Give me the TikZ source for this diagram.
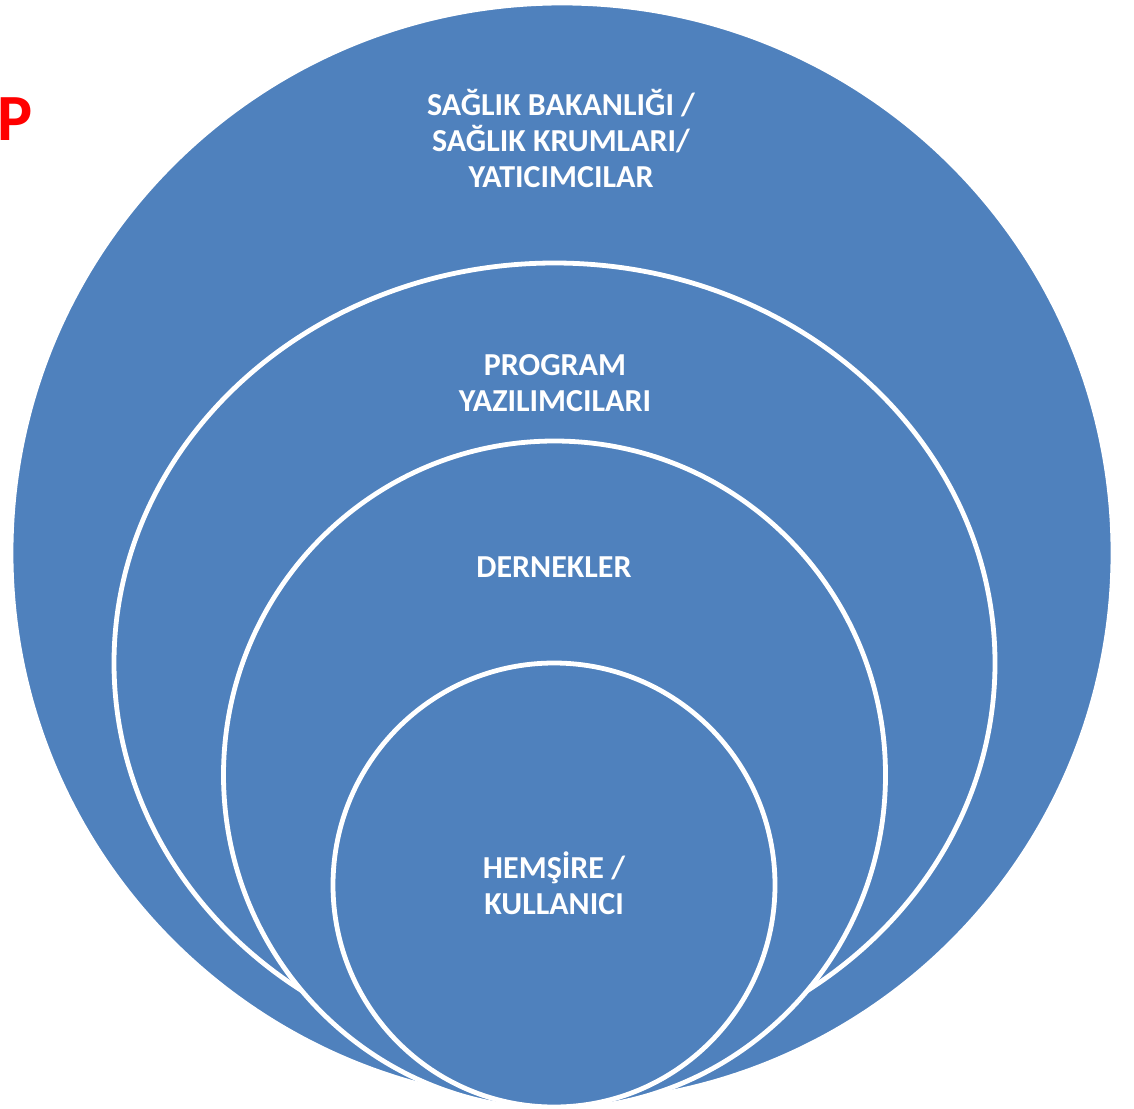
\documentclass[tikz,border=0pt]{standalone}
\usepackage{fontspec}
\setmainfont{Carlito}
\definecolor{ringblue}{RGB}{79,129,189}
\begin{document}
\begin{tikzpicture}[x=0.5pt,y=-0.5pt,
  ring/.style={fill=ringblue, draw=white, line width=2.4pt},
  lbl/.style={text=white, font=\bfseries\fontsize{16}{18}\selectfont, align=center, inner sep=0pt}]
\useasboundingbox (0,0) rectangle (1134,1108);
\fill[white] (0,0) rectangle (1134,1108);
% rings, outer to inner
\path[ring] (562,553) ellipse [x radius=551, y radius=550];
\path[ring] (554.5,663) ellipse [x radius=440.5, y radius=400];
\path[ring] (554.5,775) ellipse [x radius=331, y radius=334];
\path[ring] (554,885) ellipse [x radius=221, y radius=222];
% labels
\node[lbl] (l1) at (561,138) {SAĞLIK BAKANLIĞI /\\SAĞLIK KRUMLARI/\\YATICIMCILAR};
\node[lbl] (l2) at (555,383) {PROGRAM\\YAZILIMCILARI};
\node[lbl] (l3) at (554,567) {DERNEKLER};
\node[lbl] (l4) at (554,883) {HEMŞİRE /\\KULLANICI};
\node[text=red, font=\bfseries\fontsize{33}{33}\selectfont, anchor=base west, inner sep=0pt] (p) at (-3,140) {P};
\end{tikzpicture}
\end{document}
